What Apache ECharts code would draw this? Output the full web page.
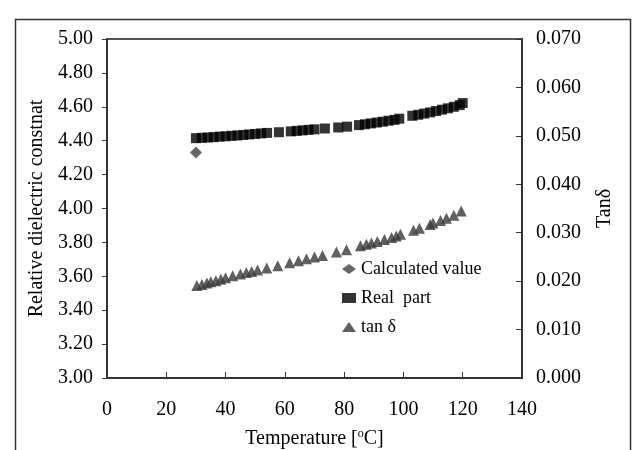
<!DOCTYPE html>
<html>
<head>
<meta charset="utf-8">
<script src="https://cdn.jsdelivr.net/npm/echarts@6/dist/echarts.min.js"></script>
<style>html,body{margin:0;padding:0;background:#fff;}#c{width:640px;height:450px;}</style>
</head>
<body>
<div id="c"></div>
<script>
// Temperature (°C) and values
const calcTemp = [30];
const calcValue = [4.33];

const realTemp = [30,32,34,36,38,40,42,44,46,48,50,52,54,58,62,64,66,68,70,73.5,78,81,85,87,89,91,93,95,97,98.6,103,105,107,109,111,113,115,117,119,120];
const realValue = [4.415,4.417,4.419,4.421,4.424,4.426,4.429,4.431,4.434,4.437,4.440,4.443,4.446,4.450,4.455,4.458,4.461,4.464,4.467,4.472,4.478,4.483,4.492,4.497,4.502,4.507,4.512,4.518,4.523,4.530,4.547,4.553,4.560,4.567,4.575,4.583,4.591,4.600,4.610,4.622];

const tanTemp = [30.3,32,33.7,35,36.7,38.4,40,42.4,45,47,48.8,50.8,53.9,57.6,61.6,64.6,67.3,70,72.7,77.4,80.8,85.5,87.5,89.2,91.2,93.6,96,97.6,99,103.4,105.4,109,110,112.5,114.5,117,119.5];
const tanValue = [0.0191,0.0193,0.0196,0.0199,0.0201,0.0204,0.0207,0.0211,0.0215,0.0218,0.0220,0.0223,0.0227,0.0232,0.0238,0.0242,0.0246,0.0250,0.0253,0.0260,0.0265,0.0273,0.0276,0.0279,0.0282,0.0286,0.0290,0.0293,0.0297,0.0305,0.0309,0.0317,0.0320,0.0325,0.0330,0.0336,0.0345];

const seriesNames = ['Calculated value', 'Real  part', 'tan \u03b4'];

const zip = (a, b) => a.map((v, i) => [v, b[i]]);
const FONT = '"Liberation Serif", "Times New Roman", serif';

const chart = echarts.init(document.getElementById('c'), null, {renderer: 'canvas'});
chart.setOption({
  animation: false,
  backgroundColor: '#fff',
  graphic: [{
    type: 'rect', left: 13, top: 17, silent: true,
    shape: {width: 615, height: 460},
    style: {fill: 'none', stroke: '#333', lineWidth: 1.5}
  }],
  grid: {left: 107, right: 118, top: 39, bottom: 72, outerBoundsMode: 'none', containLabel: false,
    show: true, borderColor: '#555', borderWidth: 2, backgroundColor: 'transparent'},
  legend: {
    orient: 'vertical', left: 337, top: 255, itemGap: 11,
    itemWidth: 14, itemHeight: 10,
    textStyle: {fontFamily: FONT, fontSize: 18, color: '#000'},
    data: [
      {name: seriesNames[0], icon: 'diamond'},
      {name: seriesNames[1], icon: 'rect'},
      {name: seriesNames[2], icon: 'triangle'}
    ]
  },
  xAxis: {
    type: 'value', min: 0, max: 140, interval: 20,
    name: 'Temperature [{sup|o}C]', nameLocation: 'middle', nameGap: 50,
    nameTextStyle: {fontFamily: FONT, fontSize: 20, color: '#000',
      rich: {sup: {fontFamily: FONT, fontSize: 12, verticalAlign: 'top', padding: [0,0,10,0], color: '#000'}}},
    axisLine: {lineStyle: {color: '#333', width: 2}},
    axisTick: {inside: true, length: 6, lineStyle: {color: '#333'}},
    axisLabel: {fontFamily: FONT, fontSize: 20, color: '#000', margin: 22},
    splitLine: {show: false}
  },
  yAxis: [{
    type: 'value', min: 3, max: 5, interval: 0.2, position: 'left',
    name: 'Relative dielectric constnat', nameLocation: 'middle', nameGap: 59,
    nameTextStyle: {fontFamily: FONT, fontSize: 20, color: '#000'},
    axisLine: {show: true, lineStyle: {color: '#333', width: 2}},
    axisTick: {show: true, inside: false, length: 5, lineStyle: {color: '#333'}},
    axisLabel: {fontFamily: FONT, fontSize: 20, color: '#000', margin: 14, formatter: v => v.toFixed(2)},
    splitLine: {show: false}
  }, {
    type: 'value', min: 0, max: 0.07, interval: 0.01, position: 'right',
    name: 'Tan\u03b4', nameLocation: 'middle', nameGap: 73,
    nameTextStyle: {fontFamily: FONT, fontSize: 20, color: '#000'},
    axisLine: {show: true, lineStyle: {color: '#333', width: 2}},
    axisTick: {show: true, inside: true, length: 6, lineStyle: {color: '#333'}},
    axisLabel: {fontFamily: FONT, fontSize: 20, color: '#000', margin: 14, formatter: v => v.toFixed(3)},
    splitLine: {show: false}
  }],
  series: [{
    name: seriesNames[0], type: 'scatter', yAxisIndex: 0,
    symbol: 'diamond', symbolSize: 12,
    itemStyle: {color: '#404040'},
    data: zip(calcTemp, calcValue)
  }, {
    name: seriesNames[1], type: 'scatter', yAxisIndex: 0,
    symbol: 'rect', symbolSize: 10,
    itemStyle: {color: '#000'},
    data: zip(realTemp, realValue)
  }, {
    name: seriesNames[2], type: 'scatter', yAxisIndex: 1,
    symbol: 'triangle', symbolSize: 11,
    itemStyle: {color: '#383838'},
    data: zip(tanTemp, tanValue)
  }]
});
</script>
</body>
</html>
